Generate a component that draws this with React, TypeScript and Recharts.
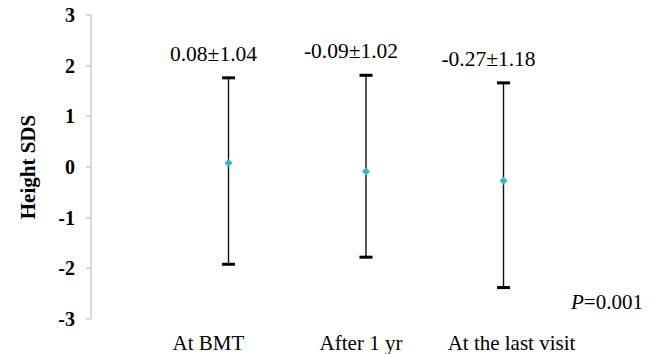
import { ComposedChart, Scatter, ErrorBar, XAxis, YAxis, Label } from 'recharts'

const CATEGORIES = ['At BMT', 'After 1 yr', 'At the last visit']
const MEAN = [0.08, -0.09, -0.27]
const SD = [1.04, 1.02, 1.18]
const HIGH = [1.76, 1.81, 1.66]
const LOW = [-1.92, -1.78, -2.38]
const Y_TICKS = [-3, -2, -1, 0, 1, 2, 3]

const FONT = '"Liberation Serif", "Times New Roman", serif'
const LABEL_SHIFT = [-20, -5, 8]

const data = CATEGORIES.map((name, i) => ({
  x: i + 1,
  name,
  mean: MEAN[i],
  high: HIGH[i],
  low: LOW[i],
  err: [MEAN[i] - LOW[i], HIGH[i] - MEAN[i]],
  note: `${MEAN[i].toFixed(2)}±${SD[i].toFixed(2)}`,
}))

function Diamond(props: any) {
  const { cx, cy } = props
  const r = 4
  return <path d={`M${cx},${cy - r}L${cx + r},${cy}L${cx},${cy + r}L${cx - r},${cy}Z`} fill="#2fbcbc" />
}

function Cap(props: any) {
  const { cx, cy } = props
  return <rect x={cx - 6.5} y={cy - 1.5} width={13} height={3} fill="#000" />
}

function TopCap(props: any) {
  const { cx, cy, payload } = props
  return (
    <g>
      <rect x={cx - 6.5} y={cy - 1.5} width={13} height={3} fill="#000" />
      <text
        x={cx - 15}
        y={cy - 17}
        textAnchor="middle"
        fontFamily={FONT}
        fontSize={21.5}
        fill="#000"
      >
        {payload.note}
      </text>
    </g>
  )
}

function CategoryTick(props: any) {
  const { x, y, payload, index } = props
  const i = CATEGORIES.length > index ? index : 0
  return (
    <text
      x={x + LABEL_SHIFT[i]}
      y={y + 23}
      textAnchor="middle"
      fontFamily={FONT}
      fontSize={21}
      fill="#000"
    >
      {CATEGORIES[payload.value - 1]}
    </text>
  )
}

export default function App() {
  return (
    <div style={{ position: 'absolute', left: 0, top: 0, width: 659, height: 354, background: '#fff' }}>
      <ComposedChart
        width={659}
        height={354}
        data={data}
        margin={{ top: 15, right: 18, left: 0, bottom: 0 }}
      >
        <XAxis
          type="number"
          dataKey="x"
          domain={[0, 4]}
          ticks={[1, 2, 3]}
          axisLine={false}
          tickLine={false}
          height={35}
          tick={<CategoryTick />}
        />
        <YAxis
          type="number"
          domain={[-3, 3]}
          ticks={Y_TICKS}
          width={91}
          axisLine={{ stroke: '#cccccc', strokeWidth: 1.5 }}
          tickLine={{ stroke: '#cccccc', strokeWidth: 1.5 }}
          tickSize={5}
          tickMargin={11}
          tick={{ fontFamily: FONT, fontSize: 20, fontWeight: 'bold', fill: '#000' }}
        >
          <Label
            content={(p: any) => {
              const vb = p.viewBox
              const cx = 28
              const cy = vb.y + vb.height / 2
              return (
                <text
                  x={cx}
                  y={cy}
                  transform={`rotate(-90 ${cx} ${cy})`}
                  textAnchor="middle"
                  dominantBaseline="central"
                  fontFamily={FONT}
                  fontSize={21}
                  fontWeight="bold"
                  fill="#000"
                >
                  Height SDS
                </text>
              )
            }}
          />
        </YAxis>
        <Scatter dataKey="mean" isAnimationActive={false} shape={<Diamond />}>
          <ErrorBar dataKey="err" direction="y" width={0} stroke="#111" strokeWidth={1.4} />
        </Scatter>
        <Scatter dataKey="high" isAnimationActive={false} shape={<TopCap />} />
        <Scatter dataKey="low" isAnimationActive={false} shape={<Cap />} />
      </ComposedChart>
      <div
        style={{
          position: 'absolute',
          left: 571,
          top: 290,
          fontFamily: FONT,
          fontSize: 21,
          lineHeight: '24px',
          color: '#000',
          whiteSpace: 'nowrap',
        }}
      >
        <i>P</i>=0.001
      </div>
    </div>
  )
}
